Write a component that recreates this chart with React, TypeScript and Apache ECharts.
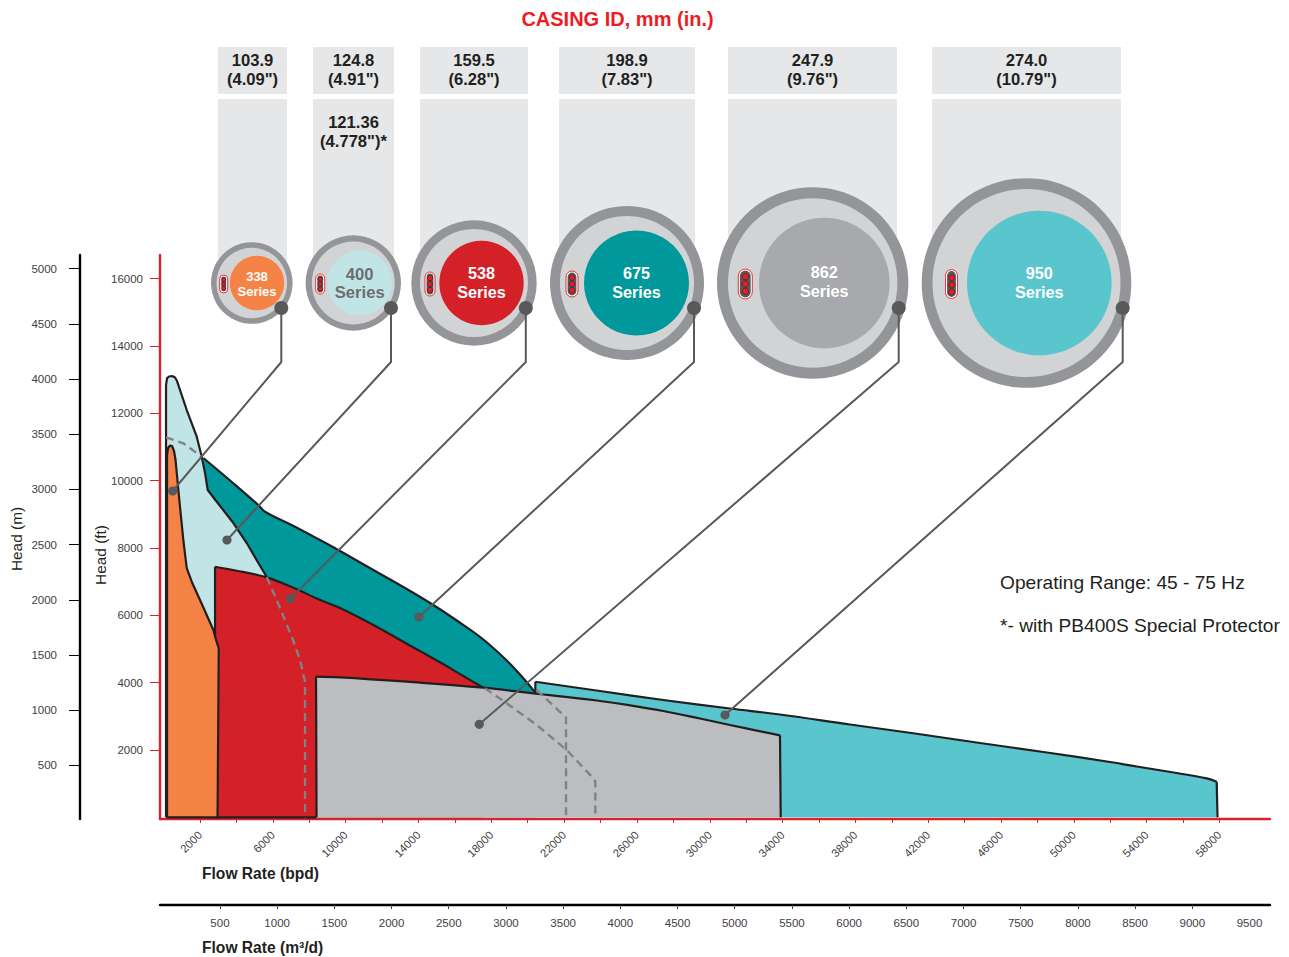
import React, { useEffect, useRef } from "react";
import * as echarts from "echarts";

const FONT = '"Liberation Sans", Arial, sans-serif';

// ---- values: [flow rate bpd, head ft]
const series338 = [[2961,0],[187,0],[187,10762],[242,10970],[352,11044],[461,11030],[571,10881],[654,10614],[862,9425],[1082,8237],[1269,7405],[1544,6999],[2164,6256],[2730,5564],[2878,5267],[3027,5029],[2961,0]];
const series400 = [[132,0],[132,12841],[187,13049],[297,13094],[461,13109],[626,13064],[736,12960],[1269,12099],[1818,11306],[2093,10712],[2274,10227],[2422,9722],[2917,9375],[3829,8742],[4565,8148],[5202,7554],[5663,7138],[5663,0]];
const series538Edges = [[8399,0],[2824,0],[2824,7444]];
const series538 = [[2824,7444],[3812,7346],[5663,7129],[7311,6773],[8536,6470],[9690,6215],[11519,5712],[13354,5157],[15182,4604],[16462,4197],[17561,3850]];
const series675 = [[2181,10673],[3812,9930],[5202,9277],[5570,9078],[7108,8662],[8591,8237],[9690,7910],[11519,7346],[13354,6782],[14815,6306],[16100,5846],[17561,5282],[18847,4658],[19758,4129],[20401,3713]];
const series862 = [[8371,4182],[9690,4159],[13354,4028],[17561,3850],[20308,3683],[23790,3470],[25620,3327],[27449,3158],[29464,2935],[31112,2742],[33858,2436]];
const series950 = [[20418,4028],[23972,3752],[27449,3484],[31112,3232],[33858,3054],[37704,2757],[41273,2489],[44845,2207],[48525,1925],[51987,1643],[53452,1509],[55650,1316],[57298,1158],[57847,1058]];
const dashTop = [[132,11288],[1082,11110],[2093,10712]];
const dash400 = [[5663,7138],[6212,6455],[7108,5267],[7493,4673],[7767,4028],[7767,0]];
const dash538 = [[17654,3832],[18847,3386],[20495,2742],[22142,1999],[23603,1158],[23713,1058],[23713,0]];
const dash675 = [[20495,3781],[21956,3039],[22104,2971],[22104,0]];

// ---- tick labels
const bpdTicks = [2000,4000,6000,8000,10000,12000,14000,16000,18000,20000,22000,24000,26000,28000,30000,32000,34000,36000,38000,40000,42000,44000,46000,48000,50000,52000,54000,56000,58000];
const bpdLabels = [2000,6000,10000,14000,18000,22000,26000,30000,34000,38000,42000,46000,50000,54000,58000];
const m3dTicks = [500,1000,1500,2000,2500,3000,3500,4000,4500,5000,5500,6000,6500,7000,7500,8000,8500,9000];
const m3dLabels = [500,1000,1500,2000,2500,3000,3500,4000,4500,5000,5500,6000,6500,7000,7500,8000,8500,9000,9500];
const ftTicks = [2000,4000,6000,8000,10000,12000,14000,16000];
const mTicks = [500,1000,1500,2000,2500,3000,3500,4000,4500,5000];

// ---- casing headers
const casingMm = ["103.9","124.8","159.5","198.9","247.9","274.0"];
const casingIn = ['(4.09")','(4.91")','(6.28")','(7.83")','(9.76")','(10.79")'];
const seriesNames = ["338","400","538","675","862","950"];

// ---- layout of the decorative cross-sections
const columns = [
  { l: 218, r: 287 }, { l: 313, r: 394 }, { l: 420, r: 528 },
  { l: 559, r: 695 }, { l: 728, r: 897 }, { l: 932, r: 1121 },
];
const CY = 283;
const rings = [
  { cx: 251.8, R: 40.8, r: 35.3, dx: 257, dr: 27.2, fill: "#f58345", text: "#ffffff", fs: 13, ty: [276, 291], px: 223.7, pw: 8, ph: 18 },
  { cx: 353.3, R: 47.7, r: 41.5, dx: 359.7, dr: 32.3, fill: "#c1e5e6", text: "#6d6e71", fs: 16.6, ty: [274, 292.5], px: 320.2, pw: 9, ph: 20 },
  { cx: 474, R: 62.7, r: 54, dx: 481.5, dr: 42.2, fill: "#d42027", text: "#ffffff", fs: 16.2, ty: [273, 292], px: 430, pw: 10, ph: 24 },
  { cx: 627, R: 77, r: 67, dx: 636.5, dr: 52.5, fill: "#00989a", text: "#ffffff", fs: 16.2, ty: [273, 292], px: 572, pw: 12, ph: 26 },
  { cx: 812.7, R: 95.7, r: 84.7, dx: 824.3, dr: 65.3, fill: "#a7a9ac", text: "#ffffff", fs: 16.2, ty: [272, 291], px: 745.3, pw: 14, ph: 30 },
  { cx: 1026.5, R: 104.8, r: 94, dx: 1039.3, dr: 72.3, fill: "#59c5cc", text: "#ffffff", fs: 16.2, ty: [272.7, 291.7], px: 951.5, pw: 12, ph: 29 },
];
const callouts = [
  { x: 281.3, end: [172.7, 491] },
  { x: 391, end: [227, 540] },
  { x: 525.8, end: [290.3, 598.7] },
  { x: 694, end: [419, 617] },
  { x: 898.7, end: [479.3, 724.3] },
  { x: 1122.7, end: [725, 715] },
];

function label(text: string, x: number, y: number, size: number, weight: string, fill: string, align = "center", rotation = 0) {
  return {
    type: "text", x, y, z: 30, rotation, silent: true,
    style: { text, align, verticalAlign: "middle", fill, font: `${weight} ${size}px ${FONT}` },
  };
}

function buildGraphics() {
  const els: any[] = [];
  els.push(label("CASING ID, mm (in.)", 617.5, 19, 20, "bold", "#ed1c24"));
  columns.forEach((c, i) => {
    const cx = (c.l + c.r) / 2;
    els.push({ type: "rect", z: 19, silent: true, shape: { x: c.l, y: 47, width: c.r - c.l, height: 47 }, style: { fill: "#e6e7e8" } });
    els.push({ type: "rect", z: 19, silent: true, shape: { x: c.l, y: 99, width: c.r - c.l, height: CY - 99 }, style: { fill: "#e6e7e8" } });
    els.push(label(casingMm[i], cx, 60, 16.6, "bold", "#231f20"));
    els.push(label(casingIn[i], cx, 79, 16.6, "bold", "#231f20"));
  });
  els.push(label("121.36", 353.5, 122, 16.6, "bold", "#231f20"));
  els.push(label('(4.778")*', 353.5, 141, 16.6, "bold", "#231f20"));

  rings.forEach((g, i) => {
    els.push({ type: "circle", z: 20, silent: true, shape: { cx: g.cx, cy: CY, r: g.R }, style: { fill: "#939598" } });
    els.push({ type: "circle", z: 21, silent: true, shape: { cx: g.cx, cy: CY, r: g.r }, style: { fill: "#d1d3d4" } });
    els.push({ type: "circle", z: 22, silent: true, shape: { cx: g.dx, cy: CY, r: g.dr }, style: { fill: g.fill } });
    els.push(label(seriesNames[i], g.dx, g.ty[0], g.fs, "bold", g.text));
    els.push(label("Series", g.dx, g.ty[1], g.fs, "bold", g.text));
    const pillTop = CY + 1 - g.ph / 2;
    els.push({ type: "rect", z: 23, silent: true, shape: { x: g.px - g.pw / 2, y: pillTop, width: g.pw, height: g.ph, r: g.pw / 2 }, style: { fill: "#ffffff", stroke: "#ed1c24", lineWidth: 0.9 } });
    const ip = 1.6;
    els.push({ type: "rect", z: 24, silent: true, shape: { x: g.px - g.pw / 2 + ip, y: pillTop + ip, width: g.pw - 2 * ip, height: g.ph - 2 * ip, r: (g.pw - 2 * ip) / 2 }, style: { fill: "#58595b" } });
    const step = g.ph * 0.245;
    [-1, 0, 1].forEach((k) => {
      els.push({ type: "circle", z: 25, silent: true, shape: { cx: g.px, cy: CY + 1 + step * k, r: step * 0.43 }, style: { fill: "#ed1c24", stroke: "#231f20", lineWidth: 0.6 } });
    });
  });

  callouts.forEach((c) => {
    els.push({ type: "polyline", z: 26, silent: true, shape: { points: [[c.x, 308], [c.x, 362], c.end] }, style: { stroke: "#58595b", lineWidth: 2, fill: "none", lineJoin: "round" } });
    els.push({ type: "circle", z: 27, silent: true, shape: { cx: c.x, cy: 308, r: 7 }, style: { fill: "#58595b" } });
    els.push({ type: "circle", z: 27, silent: true, shape: { cx: c.end[0], cy: c.end[1], r: 4.6 }, style: { fill: "#58595b" } });
  });

  els.push(label("Operating Range: 45 - 75 Hz", 1000, 582, 19.15, "normal", "#231f20", "left"));
  els.push(label("*- with PB400S Special Protector", 1000, 625, 19.15, "normal", "#231f20", "left"));
  els.push(label("Flow Rate (bpd)", 202, 873, 15.6, "bold", "#231f20", "left"));
  els.push(label("Flow Rate (m³/d)", 202, 947, 15.6, "bold", "#231f20", "left"));
  els.push(label("Head (m)", 16, 539, 15.4, "normal", "#231f20", "center", Math.PI / 2));
  els.push(label("Head (ft)", 100, 555, 15.4, "normal", "#231f20", "center", Math.PI / 2));
  return els;
}

function area(name: string, data: number[][], fill: string, z: number, smooth = 0) {
  return {
    name, type: "line", data, xAxisIndex: 0, yAxisIndex: 0, z,
    showSymbol: false, symbol: "none", silent: true, smooth,
    lineStyle: { color: "#231f20", width: 2.2, join: "round" },
    areaStyle: { color: fill, opacity: 1 },
  };
}
function edge(name: string, data: number[][], z: number) {
  return {
    name, type: "line", data, xAxisIndex: 0, yAxisIndex: 0, z,
    showSymbol: false, symbol: "none", silent: true,
    lineStyle: { color: "#231f20", width: 2.2, join: "round" },
  };
}
function dashed(name: string, data: number[][]) {
  return {
    name, type: "line", data, xAxisIndex: 0, yAxisIndex: 0, z: 18,
    showSymbol: false, symbol: "none", silent: true,
    lineStyle: { color: "#808285", width: 2.4, type: [8, 5] },
  };
}

export default function App() {
  const ref = useRef<HTMLDivElement>(null);
  useEffect(() => {
    const chart = echarts.init(ref.current!, null, { renderer: "svg" });
    const plain = (v: number) => String(v);
    const tickText = { color: "#414042", fontFamily: FONT, fontSize: 11.5, formatter: plain };
    const first = (d: number[][]) => d[0];
    const last = (d: number[][]) => d[d.length - 1];
    chart.setOption({
      animation: false,
      backgroundColor: "#ffffff",
      grid: { left: 160, top: 255, width: 1110, height: 564, containLabel: false },
      xAxis: [
        {
          type: "value", min: -200, max: 60775, position: "bottom",
          splitLine: { show: false },
          axisLine: { onZero: false, lineStyle: { color: "#d9222a", width: 2.4 } },
          axisTick: { customValues: bpdTicks, length: 4, lineStyle: { color: "#d9222a", width: 1 } },
          axisLabel: { customValues: bpdLabels, rotate: 45, margin: 14, ...tickText, fontSize: 11.3 },
        },
        {
          type: "value", min: -24, max: 9679, position: "bottom", offset: 86,
          splitLine: { show: false },
          axisLine: { onZero: false, lineStyle: { color: "#000000", width: 2.4 } },
          axisTick: { customValues: m3dTicks, length: 4, lineStyle: { color: "#414042", width: 1 } },
          axisLabel: { customValues: m3dLabels, margin: 12, ...tickText },
        },
      ],
      yAxis: [
        {
          type: "value", min: -50, max: 16704, position: "left",
          splitLine: { show: false },
          axisLine: { onZero: false, lineStyle: { color: "#d9222a", width: 2.4 } },
          axisTick: { customValues: ftTicks, length: 10, lineStyle: { color: "#d9222a", width: 1 } },
          axisLabel: { customValues: ftTicks, margin: 17, ...tickText },
        },
        {
          type: "value", min: 14, max: 5124.5, position: "left", offset: 80.5,
          splitLine: { show: false },
          axisLine: { onZero: false, lineStyle: { color: "#000000", width: 2.4 } },
          axisTick: { customValues: mTicks, length: 10.5, lineStyle: { color: "#000000", width: 1 } },
          axisLabel: { customValues: mTicks, margin: 22.5, ...tickText },
        },
      ],
      series: [
        area("950 Series", series950, "#59c5cc", 2, 0.4),
        edge("950 Series left", [[first(series950)[0], 3600], first(series950)], 3),
        edge("950 Series right", [last(series950), [57891, 0]], 3),
        area("675 Series", series675, "#00989a", 4, 0.4),
        area("400 Series", series400, "#c1e5e6", 6),
        area("538 Series", series538, "#d42027", 8, 0.4),
        edge("538 Series edges", series538Edges, 9),
        area("338 Series", series338, "#f58345", 10),
        area("862 Series", series862, "#bbbdc0", 12, 0.4),
        edge("862 Series left", [[8399, 0], first(series862)], 13),
        edge("862 Series right", [last(series862), [33897, 0]], 13),
        dashed("338 limit", dashTop),
        dashed("400 limit", dash400),
        dashed("538 limit", dash538),
        dashed("675 limit", dash675),
      ],
      graphic: { elements: buildGraphics() },
    });
    return () => chart.dispose();
  }, []);
  return <div ref={ref} style={{ position: "absolute", left: 0, top: 0, width: 1289, height: 957 }} />;
}
